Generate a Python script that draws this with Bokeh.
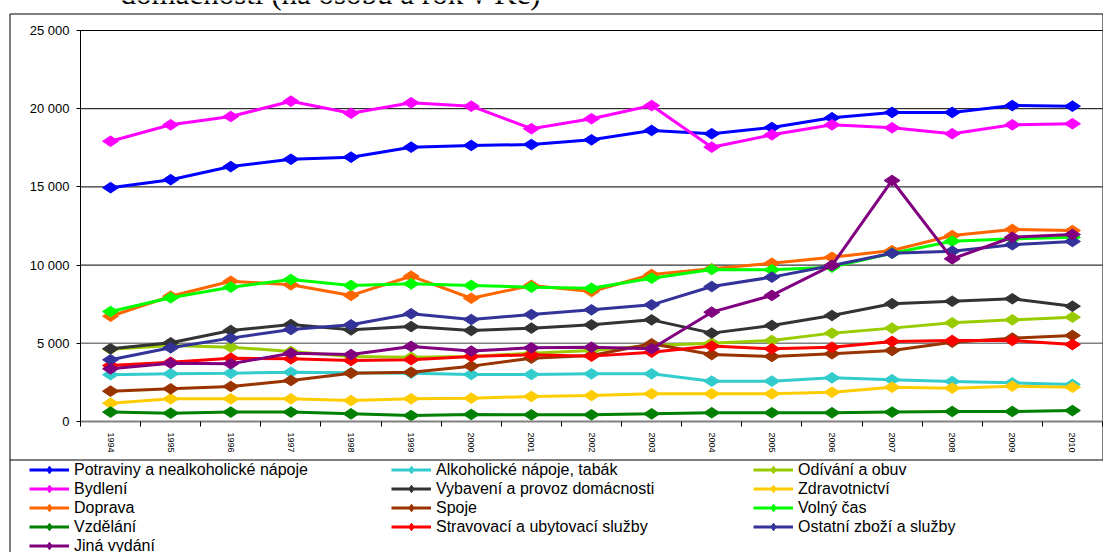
import math
from bokeh.plotting import figure
from bokeh.models import Range1d, FixedTicker, Legend, LegendItem, ColumnDataSource
from bokeh.core.properties import value
from bokeh.embed import file_html
from bokeh.resources import INLINE

title_text = "domácnosti (na osobu a rok v Kč)"

years = ["1994", "1995", "1996", "1997", "1998", "1999", "2000", "2001", "2002",
         "2003", "2004", "2005", "2006", "2007", "2008", "2009", "2010"]

y_ticks = [0, 5000, 10000, 15000, 20000, 25000]
y_tick_labels = ["0", "5 000", "10 000", "15 000", "20 000", "25 000"]

names = ["Potraviny a nealkoholické nápoje", "Alkoholické nápoje, tabák", "Odívání a obuv",
         "Bydlení", "Vybavení a provoz domácnosti", "Zdravotnictví",
         "Doprava", "Spoje", "Volný čas",
         "Vzdělání", "Stravovací a ubytovací služby", "Ostatní zboží a služby",
         "Jiná vydání"]

colors = ["#0000FF", "#33CCCC", "#99CC00",
          "#FF00FF", "#333333", "#FFCC00",
          "#FF6600", "#993300", "#00FF00",
          "#008000", "#FF0000", "#333399",
          "#800080"]

potraviny = [14950, 15460, 16300, 16770, 16900, 17540, 17650, 17710, 18010, 18610, 18400, 18800, 19420, 19760, 19760, 20200, 20160]
alkohol = [2990, 3050, 3090, 3150, 3110, 3090, 3010, 3010, 3050, 3050, 2580, 2580, 2790, 2670, 2560, 2470, 2370]
odivani = [4620, 4860, 4750, 4480, 4160, 4110, 4160, 4370, 4540, 4860, 5010, 5180, 5650, 5970, 6310, 6500, 6670]
bydleni = [17920, 18970, 19500, 20480, 19710, 20380, 20160, 18720, 19360, 20200, 17540, 18330, 18970, 18780, 18400, 18970, 19040]
vybaveni = [4650, 5030, 5820, 6200, 5860, 6070, 5820, 5970, 6180, 6500, 5650, 6140, 6780, 7530, 7690, 7850, 7370]
zdravotnictvi = [1170, 1450, 1450, 1450, 1340, 1450, 1490, 1600, 1660, 1770, 1770, 1770, 1870, 2190, 2130, 2260, 2190]
doprava = [6730, 8010, 8970, 8740, 8060, 9290, 7880, 8700, 8310, 9400, 9760, 10120, 10500, 10930, 11890, 12280, 12210]
spoje = [1940, 2090, 2240, 2620, 3090, 3150, 3540, 4050, 4220, 4970, 4280, 4160, 4330, 4540, 5070, 5330, 5500]
volny_cas = [7030, 7910, 8590, 9080, 8700, 8800, 8700, 8590, 8520, 9160, 9720, 9700, 9870, 10760, 11530, 11680, 11780]
vzdelani = [600, 530, 600, 600, 490, 380, 450, 430, 430, 490, 560, 560, 560, 600, 640, 640, 700]
stravovaci = [3580, 3790, 4050, 4010, 3900, 3950, 4160, 4270, 4180, 4430, 4820, 4650, 4750, 5120, 5180, 5180, 4920]
ostatni = [3950, 4710, 5330, 5880, 6180, 6890, 6520, 6840, 7140, 7460, 8630, 9230, 9980, 10760, 10890, 11300, 11510]
jina_vydani = [3370, 3730, 3690, 4370, 4280, 4800, 4500, 4710, 4750, 4650, 6990, 8060, 9980, 15410, 10400, 11780, 11960]

series = [potraviny, alkohol, odivani, bydleni, vybaveni, zdravotnictvi, doprava,
          spoje, volny_cas, vzdelani, stravovaci, ostatni, jina_vydani]

FONT = "Liberation Sans"

# ---- layout (pixels) ----
W, H = 1103, 552
PX_L, PX_R, PX_T, PX_B = 80, 1102, 30, 421   # plot area inside the chart box

n = len(years)
xs = list(range(1, n + 1))
x_lo, x_hi = 0.5, n + 0.5
y_lo, y_hi = y_ticks[0], y_ticks[-1]
kx = (PX_R - PX_L) / (x_hi - x_lo)
ky = (PX_B - PX_T) / (y_hi - y_lo)


def dx(px):
    return x_lo + (px - PX_L) / kx


def dy(py):
    return y_lo + (PX_B - py) / ky


p = figure(width=W, height=H, output_backend="svg", toolbar_location=None,
           x_range=Range1d(dx(0), dx(W)), y_range=Range1d(dy(H), dy(0)),
           min_border=0, min_border_left=0, min_border_right=0,
           min_border_top=0, min_border_bottom=0)
p.outline_line_color = None
p.background_fill_color = "white"
p.border_fill_color = "white"
p.grid.visible = False

# y axis, drawn at the left edge of the plot area
p.yaxis.fixed_location = x_lo
p.yaxis.bounds = (y_lo, y_hi)
p.yaxis.ticker = FixedTicker(ticks=y_ticks)
p.yaxis.major_label_overrides = {t: l for t, l in zip(y_ticks, y_tick_labels)}
p.yaxis.major_tick_out = 4
p.yaxis.major_tick_in = 0
p.yaxis.minor_tick_line_color = None
p.yaxis.major_label_standoff = 7
p.yaxis.major_label_text_font = FONT
p.yaxis.major_label_text_font_size = "13px"
p.yaxis.major_label_text_color = "#000000"
p.yaxis.axis_line_color = "#000000"
p.yaxis.major_tick_line_color = "#000000"

# x axis, drawn at y = 0
p.xaxis.fixed_location = y_lo
p.xaxis.bounds = (x_lo, x_hi)
p.xaxis.ticker = FixedTicker(ticks=xs, minor_ticks=[x - 0.5 for x in xs] + [x_hi])
p.xaxis.major_label_overrides = {x: y for x, y in zip(xs, years)}
p.xaxis.major_label_orientation = "vertical"
p.xaxis.major_tick_out = 0
p.xaxis.major_tick_in = 0
p.xaxis.major_tick_line_color = None
p.xaxis.minor_tick_out = 5
p.xaxis.minor_tick_in = 0
p.xaxis.minor_tick_line_color = "#000000"
p.xaxis.major_label_standoff = 6
p.xaxis.major_label_text_font = FONT
p.xaxis.major_label_text_font_size = "9px"
p.xaxis.major_label_text_color = "#000000"
p.xaxis.axis_line_color = "#808080"
p.xaxis.axis_line_width = 2

# horizontal gridlines across the plot area
grid_y = y_ticks[1:]
grid_colors = ["#808080" if t == 5000 else "#000000" for t in grid_y]
grid_widths = [1.6 if t == 5000 else 1 for t in grid_y]
p.segment(x0=[x_lo] * len(grid_y), x1=[x_hi] * len(grid_y), y0=grid_y, y1=grid_y,
          line_color=grid_colors, line_width=grid_widths)

# chart box and legend box edges
p.multi_line(xs=[[dx(9.5), dx(9.5), dx(1102.5), dx(1102.5), dx(9.5)], [dx(9.5), dx(9.5)]],
             ys=[[dy(459.5), dy(13.5), dy(13.5), dy(459.5), dy(459.5)], [dy(459.5), dy(H + 5)]],
             line_color="#000000", line_width=1)

# partially visible title at the top
p.text(x=[dx(120)], y=[dy(-7)], text=[title_text], text_font=value("Liberation Serif"),
       text_font_size="31px", text_baseline="alphabetic", text_color="#000000")

items = []
for name, vals, c in zip(names, series, colors):
    src = ColumnDataSource(data=dict(x=xs, y=vals))
    lr = p.line("x", "y", source=src, line_color=c, line_width=3)
    sr = p.scatter("x", "y", source=src, marker="diamond", size=16, angle=math.pi / 2,
                   fill_color=c, line_color=c)
    items.append(LegendItem(label=name, renderers=[lr, sr]))

legend = Legend(items=items, orientation="horizontal", ncols=3, location=(29, -3),
                glyph_width=40, glyph_height=19, label_height=19, label_width=317,
                label_standoff=5, spacing=0, padding=0, margin=0,
                border_line_color=None, background_fill_alpha=0,
                label_text_font=FONT, label_text_font_size="16px",
                label_text_color="#000000")
p.add_layout(legend)

open("out.html", "w").write(file_html(p, INLINE))
